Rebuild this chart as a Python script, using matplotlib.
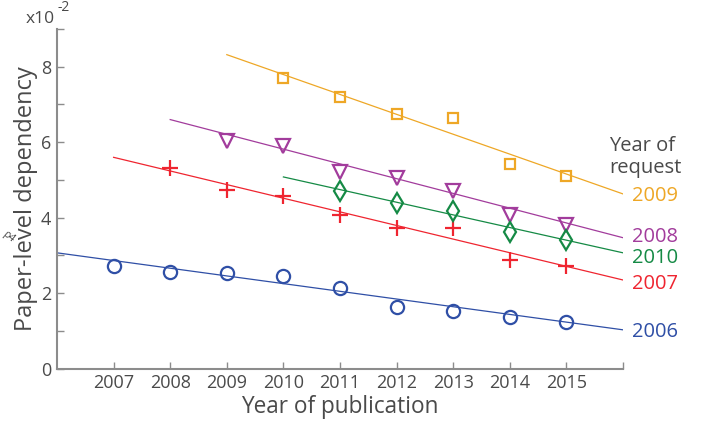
import numpy as np
import matplotlib.pyplot as plt

plt.rcParams['font.family'] = ['Open Sans', 'DejaVu Sans']

# 数据 (x10^-2)
pub_years = [2007, 2008, 2009, 2010, 2011, 2012, 2013, 2014, 2015]
req_years = [2006, 2007, 2008, 2009, 2010]

dep_2006 = [2.73, 2.57, 2.54, 2.45, 2.14, 1.64, 1.53, 1.36, 1.24]
dep_2007 = [5.32, 4.74, 4.57, 4.08, 3.73, 3.74, 2.88, 2.73]
dep_2008 = [6.03, 5.9, 5.2, 5.05, 4.72, 4.07, 3.8]
dep_2009 = [7.69, 7.2, 6.75, 6.65, 5.43, 5.11]
dep_2010 = [4.71, 4.4, 4.19, 3.61, 3.4]

# 拟合线 起点(请求年) / 终点(2016)
fit_start = [3.07, 5.6, 6.6, 8.32, 5.08]
fit_end = [1.03, 2.35, 3.47, 4.63, 3.07]
label_y = [0.97, 2.24, 3.49, 4.57, 2.93]

colors = ['#2f4fa6', '#ef2530', '#a23c9c', '#eea726', '#158a45']
markers = ['o', '+', 'v', 's', 'd']
msizes = [9.5, 11, 10, 7.5, 10]
series = [dep_2006, dep_2007, dep_2008, dep_2009, dep_2010]

gray = '#4a4a4a'
axgray = '#8c8c8c'

fig = plt.figure(figsize=(7.02, 4.22), dpi=100)
ax = fig.add_axes([0.0812, 0.1263, 0.8063, 0.805])

for i in range(len(req_years)):
  y0 = req_years[i]
  xs = pub_years[len(pub_years) - len(series[i]):]
  ax.plot([y0, 2016], [fit_start[i], fit_end[i]], color=colors[i], lw=0.9)
  ax.plot(xs, series[i], linestyle='none', marker=markers[i], ms=msizes[i],
          mfc='none', mec=colors[i], mew=1.6)
  ax.text(2016.15, label_y[i], str(y0), color=colors[i], fontsize=14.5,
          va='center', ha='left', clip_on=False)

ax.text(2015.75, 5.9, 'Year of', color=gray, fontsize=14.5, va='center', ha='left')
ax.text(2015.75, 5.33, 'request', color=gray, fontsize=14.5, va='center', ha='left')

ax.set_xlim(2006, 2016)
ax.set_ylim(0, 9)
ax.set_xticks(range(2007, 2017))
ax.set_xticklabels([str(y) for y in pub_years] + [''])
ax.set_yticks([0, 2, 4, 6, 8])
ax.set_yticks([1, 3, 5, 7, 9], minor=True)

for s in ['top', 'right']:
  ax.spines[s].set_visible(False)
for s in ['left', 'bottom']:
  ax.spines[s].set_color(axgray)
  ax.spines[s].set_linewidth(1.5)

ax.tick_params(which='both', direction='in', length=5, width=1, color=axgray,
               labelsize=13, labelcolor=gray, pad=4)

ax.set_xlabel('Year of publication', fontsize=16.3, color=gray, labelpad=2)
ax.set_ylabel('Paper-level dependency', fontsize=17, color=gray, labelpad=2)

fig.text(0.036, 0.935, 'x10', fontsize=12.5, color=gray, ha='left', va='bottom')
fig.text(0.082, 0.965, '-2', fontsize=10, color=gray, ha='left', va='bottom')
fig.text(0.0005, 0.44, 'ρ4', fontsize=7.5, color=gray, rotation=-40, ha='left', va='center')

fig.savefig('out.png', dpi=100)
